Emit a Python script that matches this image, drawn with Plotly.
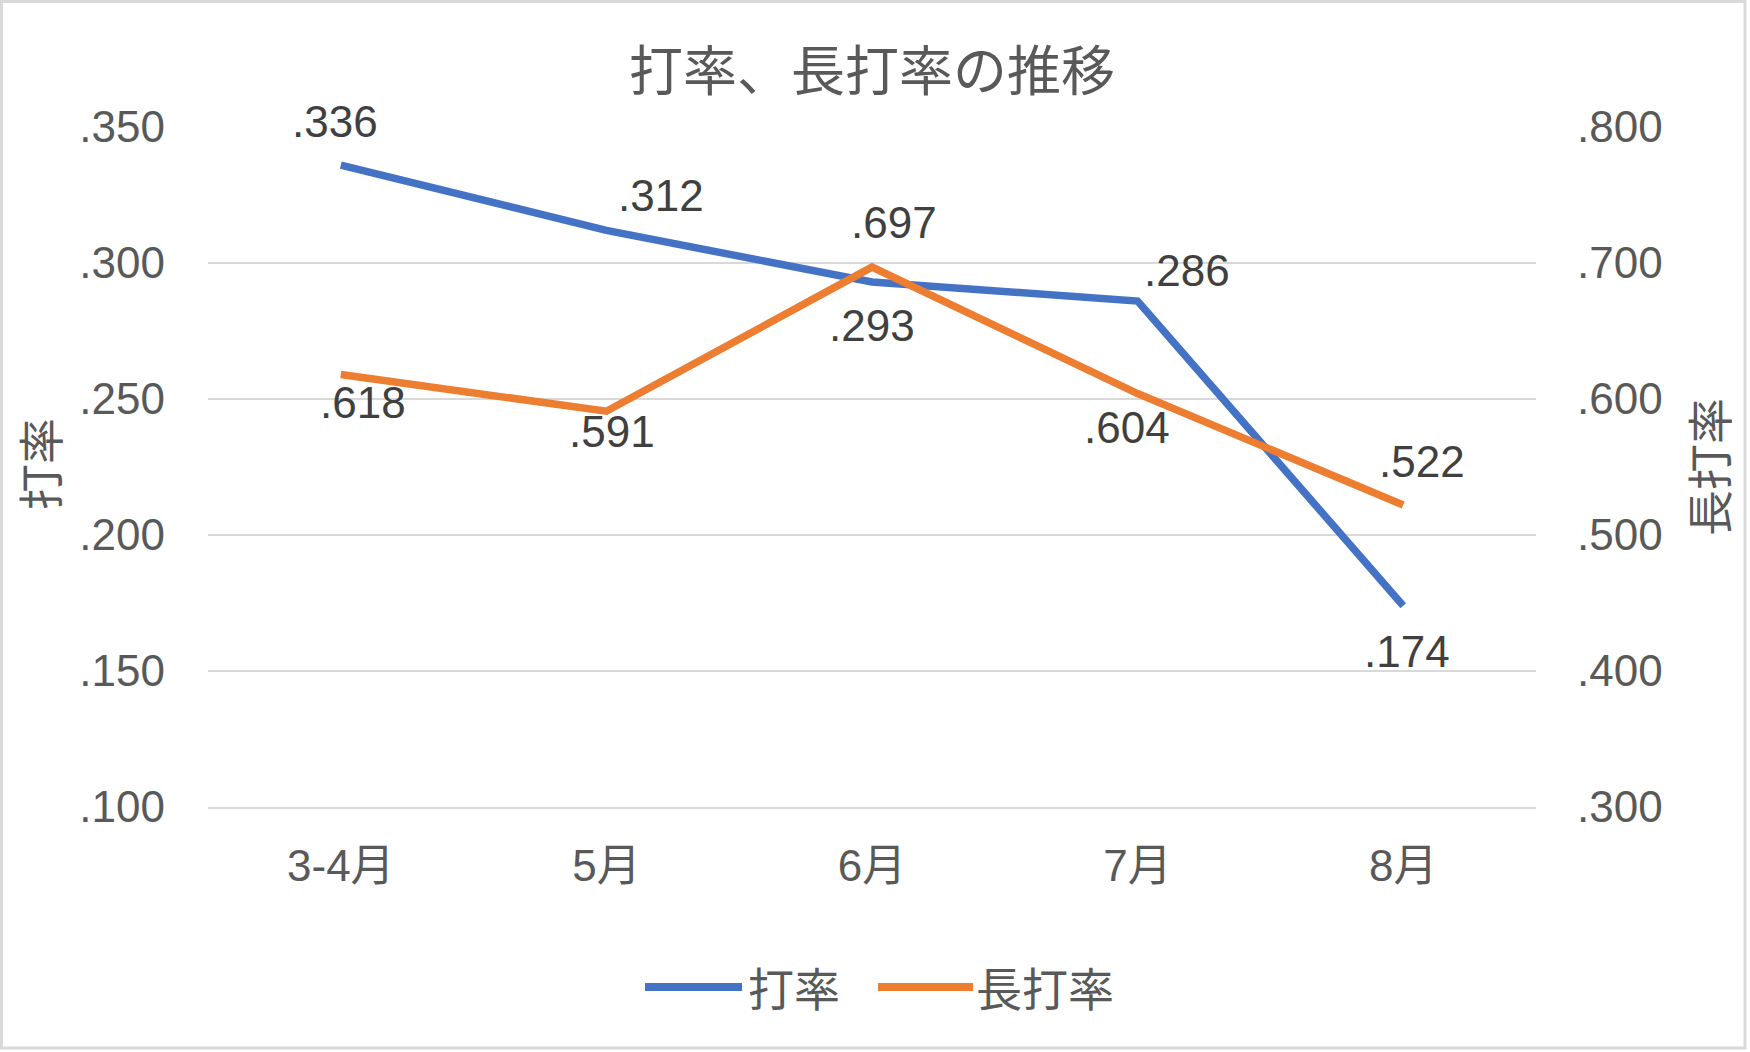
import plotly.graph_objects as go

# ---- data ----
categories = ["3-4月", "5月", "6月", "7月", "8月"]
batting_avg = [0.336, 0.312, 0.293, 0.286, 0.174]      # 打率 (left axis)
slugging = [0.618, 0.591, 0.697, 0.604, 0.522]         # 長打率 (right axis)
left_ticks = [0.100, 0.150, 0.200, 0.250, 0.300, 0.350]
left_tick_labels = [".100", ".150", ".200", ".250", ".300", ".350"]
right_ticks = [0.300, 0.400, 0.500, 0.600, 0.700, 0.800]
right_tick_labels = [".300", ".400", ".500", ".600", ".700", ".800"]
series_names = ["打率", "長打率"]
title_text = "打率、長打率の推移"

# ---- styles ----
W, H = 1750, 1052
ML, MR, MT, MB = 208, 214, 127, 245
BLUE = "#4472C4"
ORANGE = "#ED7D31"
TXT = "#595959"
GRID = "#D9D9D9"
NUM_FONT = "Liberation Sans, Arial, Noto Sans CJK JP, sans-serif"
CJK_FONT = "Noto Sans CJK JP, sans-serif"

# label offsets (px) for data labels, Excel-like placement
blue_off = [(-6, 44), (55, 35), (0, -43), (49, 31), (4, -46)]
orange_off = [(22, -28), (6, -20), (22, 45), (-11, -34), (19, 44)]


def fmt(v):
    return f"{v:.3f}".lstrip("0")


fig = go.Figure()
fig.add_trace(go.Scatter(x=categories, y=batting_avg, mode="lines", name=series_names[0],
                         line=dict(color=BLUE, width=7.5), yaxis="y", showlegend=False))
fig.add_trace(go.Scatter(x=categories, y=slugging, mode="lines", name=series_names[1],
                         line=dict(color=ORANGE, width=7.5), yaxis="y2", showlegend=False))

annotations = []
for c, v, (dx, dy) in zip(categories, batting_avg, blue_off):
    annotations.append(dict(x=c, y=v, xref="x", yref="y", text=fmt(v), showarrow=False,
                            xshift=dx, yshift=dy, font=dict(family=NUM_FONT, size=44, color="#404040")))
for c, v, (dx, dy) in zip(categories, slugging, orange_off):
    annotations.append(dict(x=c, y=v, xref="x", yref="y2", text=fmt(v), showarrow=False,
                            xshift=dx, yshift=dy, font=dict(family=NUM_FONT, size=44, color="#404040")))


def px_x(px):
    return (px - ML) / (W - ML - MR)


def px_y(py):
    return (H - MB - py) / (H - MT - MB)


# axis titles
annotations.append(dict(x=px_x(38), y=px_y(464), xref="paper", yref="paper", text=series_names[0],
                        textangle=-90, showarrow=False, xanchor="center", yanchor="middle",
                        font=dict(family=CJK_FONT, size=46, color=TXT)))
annotations.append(dict(x=px_x(1707), y=px_y(467), xref="paper", yref="paper", text=series_names[1],
                        textangle=-90, showarrow=False, xanchor="center", yanchor="middle",
                        font=dict(family=CJK_FONT, size=46, color=TXT)))

# legend (custom, Excel-like long line samples)
shapes = []
legend_items = [(645, 742, 746, BLUE, series_names[0]), (878, 973, 974, ORANGE, series_names[1])]
for x0, x1, tx, col, name in legend_items:
    shapes.append(dict(type="line", xref="paper", yref="paper", x0=px_x(x0), x1=px_x(x1),
                       y0=px_y(987), y1=px_y(987), line=dict(color=col, width=8)))
    annotations.append(dict(x=px_x(tx), y=px_y(986), xref="paper", yref="paper", text=name,
                            showarrow=False, xanchor="left", yanchor="middle",
                            font=dict(family=CJK_FONT, size=46, color=TXT)))

# outer border
shapes.append(dict(type="rect", xref="paper", yref="paper", x0=px_x(1.5), x1=px_x(1745),
                   y0=px_y(1048), y1=px_y(1.5), line=dict(color=GRID, width=3), layer="below"))

fig.update_layout(
    width=W, height=H,
    margin=dict(l=ML, r=MR, t=MT, b=MB, pad=0),
    paper_bgcolor="white", plot_bgcolor="white",
    title=dict(text=title_text, x=0.5, xref="paper", xanchor="center",
               y=1 - 72 / H, yref="container", yanchor="middle",
               font=dict(family=CJK_FONT, size=54, color=TXT)),
    xaxis=dict(type="category", range=[-0.5, 4.5], showgrid=False,
               showline=True, linecolor=GRID, linewidth=2,
               zeroline=False, ticks="", ticklabelstandoff=19,
               tickfont=dict(family=NUM_FONT, size=44, color=TXT)),
    yaxis=dict(range=[0.1, 0.35], tickvals=left_ticks, ticktext=left_tick_labels,
               showgrid=True, gridcolor=GRID, gridwidth=2, zeroline=False, showline=False,
               ticks="", ticklabelstandoff=42,
               tickfont=dict(family=NUM_FONT, size=44, color=TXT)),
    yaxis2=dict(range=[0.3, 0.8], tickvals=right_ticks, ticktext=right_tick_labels,
                overlaying="y", side="right", showgrid=False, zeroline=False, showline=False,
                ticks="", ticklabelstandoff=40,
                tickfont=dict(family=NUM_FONT, size=44, color=TXT)),
    annotations=annotations,
    shapes=shapes,
    showlegend=False,
)

fig.write_html("out.html", config={"displayModeBar": False},
               post_script="document.body.style.margin='0';document.body.style.overflow='hidden';")
